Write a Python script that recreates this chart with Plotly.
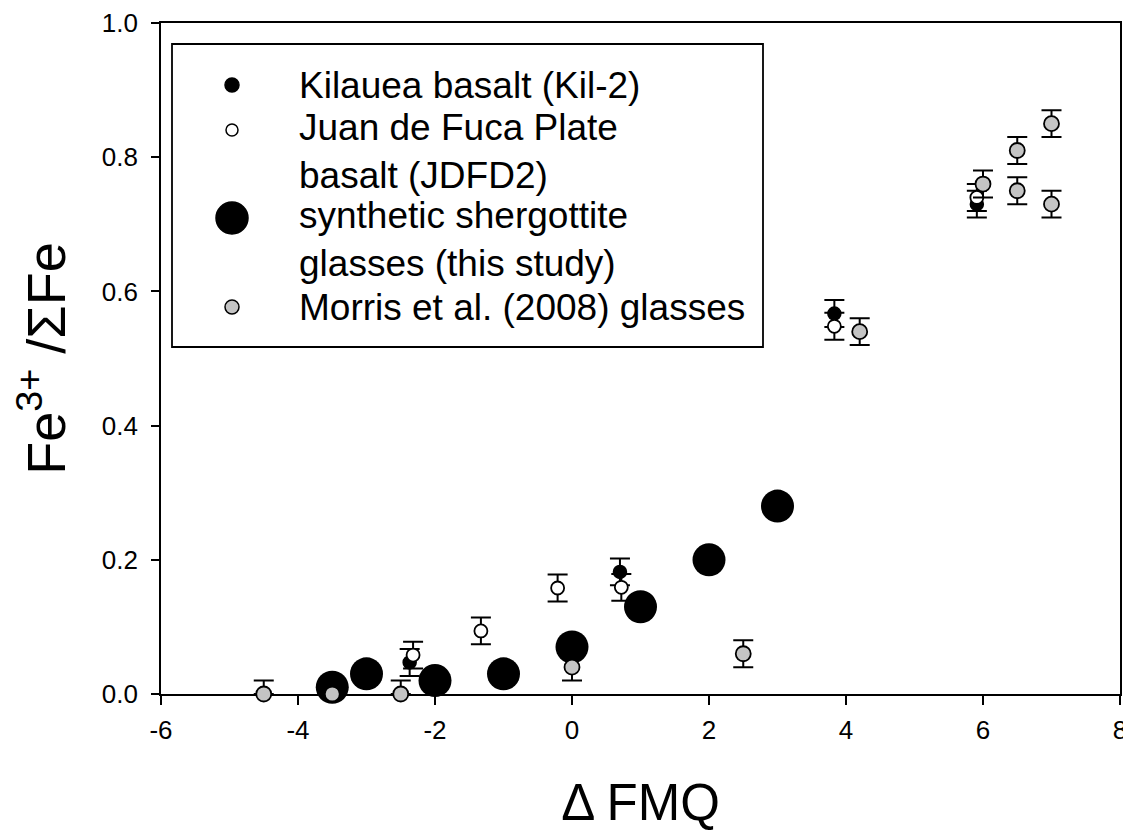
import plotly.graph_objects as go

# ---------------- data ----------------
kil_x = [-2.37, 0.70, 3.83, 5.91]
kil_y = [0.047, 0.182, 0.567, 0.730]
kil_err = [0.02, 0.02, 0.02, 0.02]

jdf_x = [-2.32, -1.33, -0.21, 0.72, 3.83, 5.91]
jdf_y = [0.058, 0.094, 0.158, 0.159, 0.548, 0.740]
jdf_err = [0.02, 0.02, 0.02, 0.02, 0.02, 0.02]

syn_x = [-3.5, -3.0, -2.0, -1.0, 0.0, 1.0, 2.0, 3.0]
syn_y = [0.01, 0.03, 0.02, 0.03, 0.07, 0.13, 0.20, 0.28]

mor_x = [-4.5, -3.5, -2.5, 0.0, 2.5, 4.2, 6.0, 6.5, 6.5, 7.0, 7.0]
mor_y = [0.0, 0.0, 0.0, 0.04, 0.06, 0.54, 0.76, 0.81, 0.75, 0.85, 0.73]
mor_err = [0.02] * 11

x_ticks = [-6, -4, -2, 0, 2, 4, 6, 8]
x_ticktext = ["-6", "-4", "-2", "0", "2", "4", "6", "8"]
y_ticks = [0.0, 0.2, 0.4, 0.6, 0.8, 1.0]
y_ticktext = ["0.0", "0.2", "0.4", "0.6", "0.8", "1.0"]

legend_labels = [
    "Kilauea basalt (Kil-2)",
    "Juan de Fuca Plate<br>basalt (JDFD2)",
    "synthetic shergottite<br>glasses (this study)",
    "Morris et al. (2008) glasses",
]

# ---------------- layout geometry ----------------
# the page body adds an 8px offset; margins compensate so the plot area
# lands at x 161..1120 and y 23..694 in the window
OFF = 8
W, H = 1131, 834
L, T = 161 - OFF, 23 - OFF
PW, PH = 959, 671
R = W - L - PW
B = H - T - PH
FONT = "Arial, Liberation Sans, Helvetica, sans-serif"
GRAY = "#c4c4c4"


def px_x(p):
    return (p - OFF - L) / PW


def px_y(p):
    return (T + PH - (p - OFF)) / PH


def clip_minus(ys, errs):
    return [min(e, y) for y, e in zip(ys, errs)]


err_style = dict(type="data", color="black", thickness=2, width=10)

fig = go.Figure()

fig.add_trace(go.Scatter(
    x=syn_x, y=syn_y, mode="markers", name="synthetic shergottite glasses (this study)",
    marker=dict(size=33, color="black", line=dict(width=0)),
    cliponaxis=False, showlegend=False,
))
fig.add_trace(go.Scatter(
    x=kil_x, y=kil_y, mode="markers", name="Kilauea basalt (Kil-2)",
    marker=dict(size=13, color="black", line=dict(width=1.5, color="black")),
    error_y=dict(array=kil_err, arrayminus=clip_minus(kil_y, kil_err), symmetric=False, **err_style),
    cliponaxis=False, showlegend=False,
))
fig.add_trace(go.Scatter(
    x=jdf_x, y=jdf_y, mode="markers", name="Juan de Fuca Plate basalt (JDFD2)",
    marker=dict(size=13, color="white", line=dict(width=1.8, color="black")),
    error_y=dict(array=jdf_err, arrayminus=clip_minus(jdf_y, jdf_err), symmetric=False, **err_style),
    cliponaxis=False, showlegend=False,
))
fig.add_trace(go.Scatter(
    x=mor_x, y=mor_y, mode="markers", name="Morris et al. (2008) glasses",
    marker=dict(size=15, color=GRAY, line=dict(width=1.8, color="black")),
    error_y=dict(array=mor_err, arrayminus=clip_minus(mor_y, mor_err), symmetric=False, **err_style),
    cliponaxis=False, showlegend=False,
))

# ---------------- hand-built legend box ----------------
shapes = [dict(
    type="rect", xref="paper", yref="paper",
    x0=px_x(172), x1=px_x(763), y0=px_y(347), y1=px_y(44),
    line=dict(color="black", width=1.8), fillcolor="rgba(0,0,0,0)", layer="above",
)]
leg_marker_y = [85, 130, 218, 307]
leg_marker_r = [7, 6, 16, 7]
leg_marker_fill = ["black", "white", "black", GRAY]
for cy, r, fc in zip(leg_marker_y, leg_marker_r, leg_marker_fill):
    shapes.append(dict(
        type="circle", xref="paper", yref="paper",
        xsizemode="pixel", ysizemode="pixel",
        xanchor=px_x(232), yanchor=px_y(cy),
        x0=-r, x1=r, y0=-r, y1=r,
        fillcolor=fc, line=dict(color="black", width=1.5), layer="above",
    ))

leg_text_y = [85, 151.5, 239, 307]
annotations = []
for txt, cy in zip(legend_labels, leg_text_y):
    annotations.append(dict(
        text=txt, xref="paper", yref="paper", x=px_x(297), y=px_y(cy),
        xanchor="left", yanchor="middle", align="left", showarrow=False,
        font=dict(family=FONT, size=37, color="black"),
    ))

fig.update_layout(
    width=W, height=H, autosize=False,
    margin=dict(l=L, r=R, t=T, b=B),
    paper_bgcolor="white", plot_bgcolor="white",
    font=dict(family=FONT, color="black"),
    shapes=shapes, annotations=annotations,
    showlegend=False,
)

fig.update_xaxes(
    range=[-6, 8], tickvals=x_ticks, ticktext=x_ticktext,
    showline=True, linecolor="black", linewidth=1.8, mirror=True,
    ticks="outside", ticklen=9, tickwidth=1.8, tickcolor="black",
    tickfont=dict(family=FONT, size=26, color="black"), ticklabelstandoff=3,
    showgrid=False, zeroline=False, layer="below traces", automargin=False,
    title=dict(text="\u0394 FMQ", font=dict(family=FONT, size=51, color="black"), standoff=40),
)
fig.update_yaxes(
    range=[0, 1.0], tickvals=y_ticks, ticktext=y_ticktext,
    showline=True, linecolor="black", linewidth=1.8, mirror=True,
    ticks="outside", ticklen=8, tickwidth=1.8, tickcolor="black",
    tickfont=dict(family=FONT, size=26, color="black"), ticklabelstandoff=8,
    showgrid=False, zeroline=False, layer="below traces", automargin=False,
    title=dict(text="Fe<sup>3+</sup> /\u03a3Fe", font=dict(family=FONT, size=54, color="black"), standoff=22),
)

fig.write_html("out.html")
